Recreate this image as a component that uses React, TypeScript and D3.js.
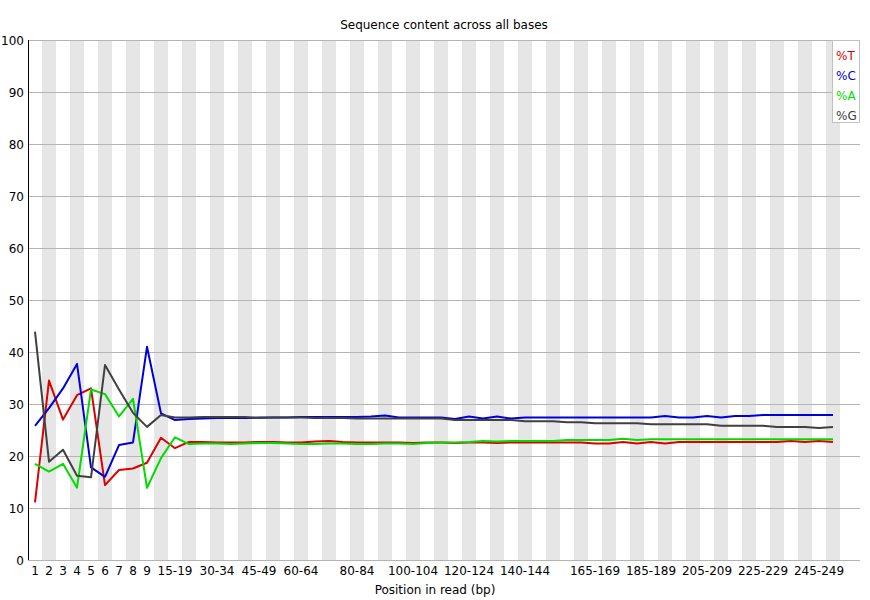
import React from "react";
import * as d3 from "d3";

const categories: string[] = [
  "1", "2", "3", "4", "5", "6", "7", "8", "9",
  "10-14", "15-19", "20-24", "25-29", "30-34", "35-39", "40-44", "45-49",
  "50-54", "55-59", "60-64", "65-69", "70-74", "75-79", "80-84", "85-89",
  "90-94", "95-99", "100-104", "105-109", "110-114", "115-119", "120-124",
  "125-129", "130-134", "135-139", "140-144", "145-149", "150-154", "155-159",
  "160-164", "165-169", "170-174", "175-179", "180-184", "185-189", "190-194",
  "195-199", "200-204", "205-209", "210-214", "215-219", "220-224", "225-229",
  "230-234", "235-239", "240-244", "245-249", "250-251",
];

const shownXLabels: string[] = [
  "1", "2", "3", "4", "5", "6", "7", "8", "9", "15-19", "30-34", "45-49",
  "60-64", "80-84", "100-104", "120-124", "140-144", "165-169", "185-189",
  "205-209", "225-229", "245-249",
];

const yTicks: number[] = [0, 10, 20, 30, 40, 50, 60, 70, 80, 90, 100];

const pctT: number[] = [
  11.1, 34.5, 27.0, 31.7, 33.0, 14.4, 17.3, 17.6, 18.7, 23.5, 21.5, 22.7,
  22.7, 22.6, 22.6, 22.6, 22.7, 22.7, 22.6, 22.6, 22.8, 22.9, 22.7, 22.6,
  22.6, 22.6, 22.6, 22.5, 22.6, 22.6, 22.5, 22.6, 22.6, 22.5, 22.6, 22.6, 22.6, 22.6, 22.6, 22.6,
  22.4, 22.4, 22.7, 22.4, 22.7, 22.4, 22.7, 22.7, 22.7, 22.7, 22.7, 22.7, 22.7, 22.7, 22.9, 22.7, 22.9, 22.7,
];

const pctC: number[] = [
  25.8, 29.2, 33.0, 37.7, 17.8, 16.0, 22.1, 22.6, 41.0, 28.2, 26.9, 27.1,
  27.2, 27.3, 27.3, 27.3, 27.4, 27.4, 27.4, 27.5, 27.5, 27.5, 27.5, 27.5,
  27.6, 27.8, 27.4, 27.4, 27.4, 27.4, 27.1, 27.6, 27.2, 27.6, 27.2, 27.4, 27.4, 27.4, 27.4, 27.4,
  27.4, 27.4, 27.4, 27.4, 27.4, 27.7, 27.4, 27.4, 27.7, 27.4, 27.7, 27.7, 27.9, 27.9, 27.9, 27.9, 27.9, 27.9,
];

const pctA: number[] = [
  18.5, 17.0, 18.5, 13.9, 32.8, 31.9, 27.6, 31.0, 13.9, 19.6, 23.6, 22.3,
  22.4, 22.4, 22.3, 22.4, 22.5, 22.5, 22.4, 22.3, 22.3, 22.4, 22.4, 22.3,
  22.3, 22.4, 22.4, 22.3, 22.5, 22.6, 22.6, 22.7, 22.9, 22.8, 22.9, 22.9, 22.9, 22.9, 23.1, 23.1,
  23.1, 23.1, 23.3, 23.1, 23.2, 23.2, 23.2, 23.2, 23.2, 23.2, 23.2, 23.2, 23.2, 23.2, 23.2, 23.2, 23.2, 23.2,
];

const pctG: number[] = [
  43.9, 18.9, 21.2, 16.2, 15.9, 37.5, 32.8, 28.3, 25.6, 27.9, 27.4, 27.4,
  27.5, 27.5, 27.5, 27.5, 27.3, 27.4, 27.4, 27.4, 27.3, 27.3, 27.3, 27.2,
  27.2, 27.2, 27.2, 27.2, 27.2, 27.2, 26.9, 26.9, 26.9, 26.9, 26.9, 26.7, 26.7, 26.7, 26.5, 26.5,
  26.3, 26.3, 26.3, 26.3, 26.1, 26.1, 26.1, 26.1, 26.1, 25.8, 25.8, 25.8, 25.8, 25.6, 25.6, 25.6, 25.4, 25.6,
];

const seriesNames: string[] = ["%T", "%C", "%A", "%G"];
const seriesColors: string[] = ["#dc0000", "#0000dc", "#00dc00", "#404040"];
const seriesValues: number[][] = [pctT, pctC, pctA, pctG];

const W = 870;
const H = 600;
const FONT = "DejaVu Sans";

export default function App() {
  const left = 28;
  const top = 40;
  const bottom = 560;
  const right = 860;
  const bw = 14;

  const x = d3
    .scaleBand<string>()
    .domain(categories)
    .range([left, left + bw * categories.length])
    .padding(0);
  const y = d3.scaleLinear().domain([0, 100]).range([bottom, top]);

  const line = d3
    .line<number>()
    .x((_, i) => (x(categories[i]) as number) + x.bandwidth() / 2)
    .y((d) => y(d));

  return (
    <svg
      width={W}
      height={H}
      style={{ position: "absolute", left: 0, top: 0, background: "#fff" }}
      fontFamily={FONT}
      fontSize={12}
    >
      <rect x={0} y={0} width={W} height={H} fill="#fff" />
      {categories.map((c, i) =>
        i % 2 === 1 ? (
          <rect
            key={c}
            x={x(c) as number}
            y={top}
            width={x.bandwidth()}
            height={bottom - top}
            fill="#e6e6e6"
          />
        ) : null
      )}
      {yTicks.map((t) => (
        <g key={t}>
          <line x1={left} x2={right} y1={y(t)} y2={y(t)} stroke="#b4b4b4" strokeWidth={1} shapeRendering="crispEdges" />
          <text x={24} y={y(t) + 5} textAnchor="end" fill="#000">
            {t}
          </text>
        </g>
      ))}
      <line x1={left} x2={left} y1={top} y2={bottom} stroke="#000" strokeWidth={1} shapeRendering="crispEdges" />
      {shownXLabels.map((lab) => (
        <text
          key={lab}
          x={(x(lab) as number) + x.bandwidth() / 2}
          y={575}
          textAnchor="middle"
          fill="#000"
        >
          {lab}
        </text>
      ))}
      {seriesValues.map((vals, k) => (
        <path
          key={seriesNames[k]}
          d={line(vals) || ""}
          fill="none"
          stroke={seriesColors[k]}
          strokeWidth={2}
          strokeLinejoin="round"
        />
      ))}
      <text x={(left + right) / 2} y={29} textAnchor="middle" fill="#000">
        Sequence content across all bases
      </text>
      <text x={W / 2} y={594} textAnchor="middle" fill="#000">
        Position in read (bp)
      </text>
      <rect x={832.5} y={40.5} width={27} height={82} fill="#fff" stroke="#c0c0c0" strokeWidth={1} />
      {seriesNames.map((n, k) => (
        <text key={n} x={836} y={60 + k * 20} fill={seriesColors[k]}>
          {n}
        </text>
      ))}
    </svg>
  );
}
